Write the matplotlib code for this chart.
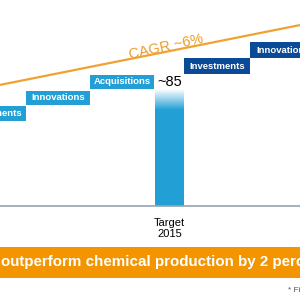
import numpy as np
import matplotlib
matplotlib.use('Agg')
import matplotlib.pyplot as plt
from matplotlib.patches import Rectangle
from matplotlib.colors import LinearSegmentedColormap

plt.rcParams['font.family'] = ['Liberation Sans', 'DejaVu Sans']

# data
step_labels = ['Investments', 'Innovations', 'Acquisitions', 'Investments', 'Innovations']
step_base = [62, 73.5, 85, 96, 107.5]
bar_label = 'Target\n2015'
bar_value = 85
cagr_start, cagr_end = 88, 131.5
cagr_text = 'CAGR ~6%'
banner_text = 'outperform chemical production by 2 percentage points'

LIGHT = '#22A0D6'
DARK = '#0A4A96'
ORANGE = '#F39500'
LINE = '#F0A232'

fig = plt.figure(figsize=(3, 3), dpi=100)
ax = fig.add_axes([0, 0, 1, 1])
ax.axis('off')

# trend line
ax.plot([0, 300], [cagr_start, cagr_end], color=LINE, lw=1.6, solid_capstyle='butt')
ax.text(166, 115.5, cagr_text, color='#EC9C2C', fontsize=10.5, rotation=12.5,
        ha='center', va='center')

# steps before the bar (light) and after (dark)
light_w, dark_w = 64, 66
bar_left, bar_w = 155, 29
for i in range(3):
    left = -38 + light_w * i
    ax.add_patch(Rectangle((left, step_base[i]), light_w, 10.4, color=LIGHT, lw=0))
    ax.text(left + light_w / 2, step_base[i] + 5.2, step_labels[i], color='white',
            fontsize=6.8, fontweight='bold', ha='center', va='center')
for j in range(2):
    i = 3 + j
    left = bar_left + bar_w + dark_w * j
    ax.add_patch(Rectangle((left, step_base[i]), dark_w, 11.4, color=DARK, lw=0))
    ax.text(left + dark_w / 2, step_base[i] + 5.7, step_labels[i], color='white',
            fontsize=6.8, fontweight='bold', ha='center', va='center')

# target bar with faded top
bars = ax.bar([bar_left + bar_w / 2], [bar_value], width=bar_w, color=LIGHT, lw=0)
rect = bars[0]
fade = 15
grad = np.linspace(0, 1, 100).reshape(-1, 1)
cmap = LinearSegmentedColormap.from_list('fade', ['white', LIGHT])
im = ax.imshow(grad, cmap=cmap, aspect='auto', origin='upper',
               extent=[bar_left, bar_left + bar_w, bar_value - fade, bar_value],
               zorder=3)
im.set_clip_path(rect)
ax.text(bar_left + bar_w / 2, bar_value + 0.3, '~85', fontsize=10.5,
        ha='center', va='bottom')

ax.set_xlim(0, 300)
ax.set_ylim(-68.3, 149.7)

# baseline and category label
ax.axhline(0, color='#93A4B2', lw=1.2)
ax.text(bar_left + bar_w / 2, -16.5, bar_label, fontsize=8, ha='center', va='center',
        linespacing=1.15)

# banner
fig.patches.append(Rectangle((0, 22 / 300), 1, 31 / 300, transform=fig.transFigure,
                             color=ORANGE, lw=0))
fig.text(1 / 300, 38 / 300, banner_text, color='white', fontsize=10.9,
         fontweight='bold', ha='left', va='center')
fig.text(288 / 300, 10 / 300, '* Figures', color='#555555', fontsize=6,
         ha='left', va='center')

fig.savefig('out.png', dpi=100, facecolor='white')
